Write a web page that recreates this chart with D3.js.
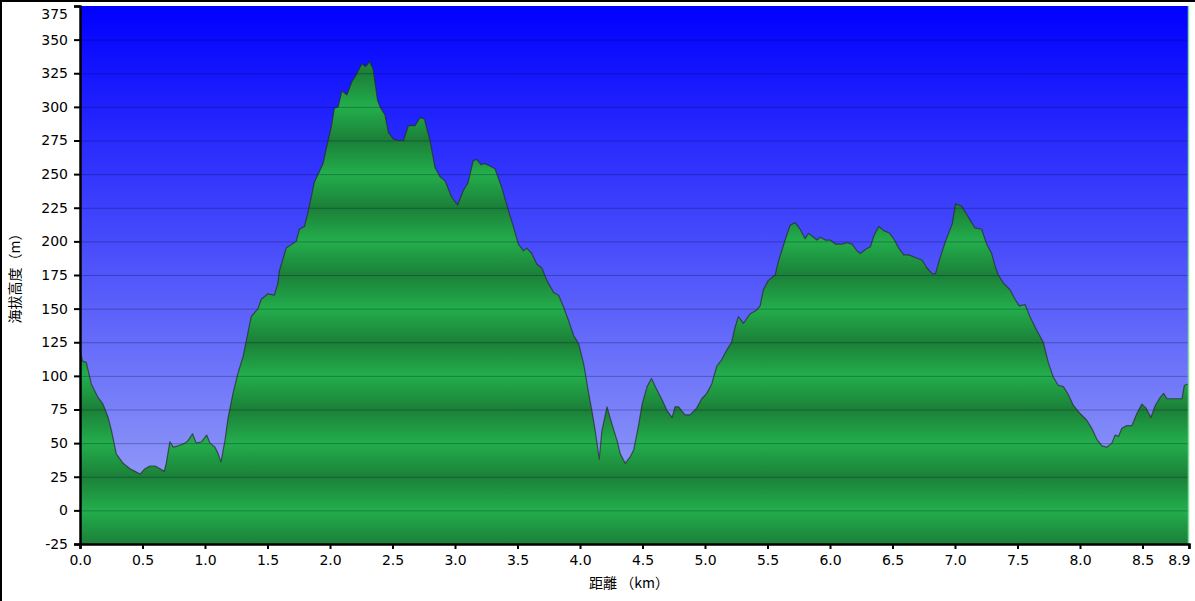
<!DOCTYPE html>
<html>
<head>
<meta charset="utf-8">
<script src="https://cdn.jsdelivr.net/npm/d3@7"></script>
<style>
  body { margin: 0; background: #fff; }
  text { font-family: "DejaVu Sans", Verdana, sans-serif; }
</style>
</head>
<body>
<div class="profile"></div>
<script>
// distance along the track (km)
const distKm = [
  0.000, 0.020, 0.050, 0.090, 0.144, 0.184, 0.225, 0.250, 0.290, 0.345,
  0.400, 0.440, 0.480, 0.520, 0.560, 0.600, 0.640, 0.674, 0.690, 0.719,
  0.746, 0.786, 0.840, 0.866, 0.900, 0.930, 0.973, 1.013, 1.040, 1.080,
  1.106, 1.128, 1.160, 1.185, 1.224, 1.264, 1.304, 1.330, 1.370, 1.424,
  1.450, 1.504, 1.555, 1.583, 1.595, 1.650, 1.730, 1.755, 1.795, 1.822,
  1.850, 1.875, 1.915, 1.945, 1.970, 2.010, 2.035, 2.065, 2.095, 2.135,
  2.176, 2.211, 2.255, 2.283, 2.305, 2.315, 2.345, 2.362, 2.380, 2.400,
  2.440, 2.467, 2.507, 2.547, 2.587, 2.627, 2.680, 2.720, 2.755, 2.800,
  2.840, 2.880, 2.920, 2.973, 3.021, 3.067, 3.102, 3.146, 3.173, 3.208,
  3.235, 3.280, 3.320, 3.374, 3.427, 3.467, 3.507, 3.548, 3.574, 3.614,
  3.655, 3.695, 3.735, 3.789, 3.829, 3.869, 3.909, 3.949, 3.989, 4.029,
  4.069, 4.095, 4.122, 4.154, 4.175, 4.216, 4.256, 4.296, 4.322, 4.362,
  4.403, 4.430, 4.470, 4.497, 4.537, 4.572, 4.603, 4.657, 4.697, 4.737,
  4.760, 4.788, 4.840, 4.880, 4.933, 4.974, 5.014, 5.054, 5.094, 5.133,
  5.173, 5.213, 5.240, 5.267, 5.307, 5.360, 5.414, 5.441, 5.467, 5.507,
  5.561, 5.587, 5.641, 5.681, 5.721, 5.761, 5.801, 5.828, 5.868, 5.895,
  5.922, 5.962, 6.002, 6.042, 6.096, 6.136, 6.176, 6.216, 6.243, 6.283,
  6.323, 6.355, 6.390, 6.430, 6.478, 6.515, 6.550, 6.590, 6.630, 6.683,
  6.737, 6.777, 6.817, 6.844, 6.871, 6.924, 6.978, 7.004, 7.031, 7.055,
  7.080, 7.120, 7.160, 7.213, 7.253, 7.293, 7.323, 7.347, 7.387, 7.440,
  7.480, 7.514, 7.560, 7.600, 7.653, 7.706, 7.746, 7.786, 7.826, 7.867,
  7.907, 7.947, 8.001, 8.054, 8.094, 8.134, 8.174, 8.214, 8.255, 8.281,
  8.308, 8.335, 8.375, 8.415, 8.455, 8.495, 8.529, 8.567, 8.602, 8.642,
  8.669, 8.695, 8.749, 8.816, 8.835, 8.872
]

// elevation (m)
const elevM = [
  119, 111, 110, 94, 84, 79, 69, 60, 42, 35,
  31, 29, 27, 31, 33, 33, 31, 29, 35, 51,
  47, 48, 50, 52, 57, 50, 51, 56, 50, 47,
  42, 36, 52, 69, 87, 102, 114, 126, 144, 150,
  157, 161, 160, 169, 178, 195, 200, 209, 211, 221,
  233, 244, 252, 258, 269, 285, 299, 300, 312, 309,
  319, 324, 332, 330, 332, 334, 328, 317, 305, 300,
  294, 281, 276, 275, 275, 286, 286, 292, 291, 275,
  255, 248, 245, 233, 227, 238, 243, 260, 261, 257,
  258, 256, 254, 240, 223, 211, 198, 193, 195, 191,
  183, 180, 171, 162, 160, 151, 141, 130, 124, 109,
  87, 74, 59, 38, 59, 77, 64, 52, 42, 35,
  40, 45, 64, 79, 92, 98, 92, 82, 74, 69,
  77, 77, 71, 71, 76, 83, 87, 94, 107, 112,
  119, 125, 136, 144, 139, 146, 149, 152, 164, 171,
  175, 185, 201, 212, 214, 209, 202, 206, 203, 201,
  203, 201, 201, 198, 198, 199, 198, 193, 191, 194,
  196, 205, 211, 208, 206, 201, 195, 190, 190, 188,
  186, 180, 176, 176, 185, 200, 213, 228, 227, 226,
  222, 216, 210, 209, 198, 191, 181, 175, 169, 164,
  157, 152, 153, 144, 134, 125, 110, 99, 93, 92,
  86, 78, 72, 67, 61, 53, 48, 47, 50, 56,
  55, 61, 63, 63, 72, 79, 76, 69, 78, 84,
  87, 83, 83, 83, 93, 94
]

const xTicks = [0, 0.5, 1, 1.5, 2, 2.5, 3, 3.5, 4, 4.5, 5, 5.5, 6, 6.5, 7, 7.5, 8, 8.5, 8.872]
const xTickLabels = ['0.0', '0.5', '1.0', '1.5', '2.0', '2.5', '3.0', '3.5', '4.0', '4.5',
  '5.0', '5.5', '6.0', '6.5', '7.0', '7.5', '8.0', '8.5', '8.9']
const yTicks = [-25, 0, 25, 50, 75, 100, 125, 150, 175, 200, 225, 250, 275, 300, 325, 350, 375]

const chartData = distKm.map((d, i) => ({ d: d, e: elevM[i] }))

var width = 1195
var height = 601

var svg = d3.select('.profile')
  .append('svg')
  .attr('width', width)
  .attr('height', height)

var xScale = d3.scaleLinear().domain([0, 8.872]).range([80, 1189])
var yScale = d3.scaleLinear().domain([-25, 375]).range([544, 6])

var defs = svg.append('defs')

// sky: deep blue at the top fading to pale blue
var sky = defs.append('linearGradient')
  .attr('id', 'sky')
  .attr('gradientUnits', 'userSpaceOnUse')
  .attr('x1', 0).attr('x2', 0)
  .attr('y1', yScale(375)).attr('y2', yScale(-25))
sky.append('stop').attr('offset', 0).attr('stop-color', '#0000ff')
sky.append('stop').attr('offset', 1).attr('stop-color', '#a2acf6')

// green with soft bands, light on each 50 m, dark between
var ground = defs.append('linearGradient')
  .attr('id', 'ground')
  .attr('gradientUnits', 'userSpaceOnUse')
  .attr('x1', 0).attr('x2', 0)
  .attr('y1', yScale(375)).attr('y2', yScale(-25))
yTicks.slice().reverse().forEach((v) => {
  ground.append('stop')
    .attr('offset', (yScale(v) - yScale(375)) / (yScale(-25) - yScale(375)))
    .attr('stop-color', Math.abs(v) % 50 === 0 ? '#23ae4c' : '#1b8038')
})

// plot background
svg.append('rect')
  .attr('x', xScale(0)).attr('y', yScale(375))
  .attr('width', xScale(8.872) - xScale(0))
  .attr('height', yScale(-25) - yScale(375))
  .attr('fill', 'url(#sky)')

var area = d3.area()
  .x((p) => xScale(p.d))
  .y0(yScale(-25))
  .y1((p) => yScale(p.e))

svg.append('path')
  .datum(chartData)
  .attr('d', area)
  .attr('fill', 'url(#ground)')

// grid lines over sky and ground
svg.append('g')
  .selectAll('line')
  .data(yTicks.filter((v) => v > -25 && v < 375))
  .join('line')
  .attr('x1', xScale(0)).attr('x2', xScale(8.872))
  .attr('y1', (v) => yScale(v) + 0.5).attr('y2', (v) => yScale(v) + 0.5)
  .attr('stroke', '#000030')
  .attr('stroke-opacity', 0.28)
  .attr('stroke-width', 1)

var line = d3.line()
  .x((p) => xScale(p.d))
  .y((p) => yScale(p.e))

svg.append('path')
  .datum(chartData)
  .attr('d', line)
  .attr('fill', 'none')
  .attr('stroke', '#2a2a2a')
  .attr('stroke-opacity', 0.7)
  .attr('stroke-width', 1.2)
  .attr('stroke-linejoin', 'round')

// end marker on the right edge
svg.append('line')
  .attr('x1', xScale(8.872) - 0.5).attr('x2', xScale(8.872) - 0.5)
  .attr('y1', yScale(375)).attr('y2', yScale(-25))
  .attr('stroke', '#7fdc9c')
  .attr('stroke-width', 1.5)

// axes
const yAxis = d3.axisLeft(yScale)
  .tickValues(yTicks)
  .tickSize(6)
  .tickPadding(6)
  .tickFormat((d) => d)
const xAxis = d3.axisBottom(xScale)
  .tickValues(xTicks)
  .tickSize(5)
  .tickPadding(6)
  .tickFormat((d, i) => xTickLabels[i])

var gy = svg.append('g').attr('class', 'yAxis').attr('transform', `translate(${xScale(0)}, 0)`).call(yAxis)
var gx = svg.append('g').attr('class', 'xAxis').attr('transform', `translate(0, ${yScale(-25)})`).call(xAxis)

;[gy, gx].forEach((g) => {
  g.select('.domain').attr('stroke', '#000').attr('stroke-width', 2.5)
  g.selectAll('.tick line').attr('stroke', '#000').attr('stroke-width', 2)
  g.selectAll('.tick text')
    .attr('fill', '#000')
    .style('font-size', '14px')
    .style('font-family', '"DejaVu Sans", Verdana, sans-serif')
})

// keep the end labels inside the picture
gy.selectAll('.tick text').filter((d) => d === 375).attr('dy', '0.9em')
gx.selectAll('.tick text').filter((d) => d === 8.872).attr('text-anchor', 'end').attr('x', 1)

// axis titles
svg.append('text')
  .attr('transform', `translate(20, ${(yScale(375) + yScale(-25)) / 2}) rotate(-90)`)
  .attr('text-anchor', 'middle')
  .style('font-family', '"Noto Sans CJK JP", "DejaVu Sans", sans-serif')
  .style('font-size', '14px')
  .text('海拔高度（m）')

svg.append('text')
  .attr('x', 629)
  .attr('y', 588)
  .attr('text-anchor', 'middle')
  .style('font-family', '"Noto Sans CJK JP", "DejaVu Sans", sans-serif')
  .style('font-size', '14px')
  .text('距離 （km）')

// outer frame, top and left
svg.append('path')
  .attr('d', `M1,${height} L1,1 L${width},1`)
  .attr('fill', 'none')
  .attr('stroke', '#000')
  .attr('stroke-width', 2)
</script>
</body>
</html>
